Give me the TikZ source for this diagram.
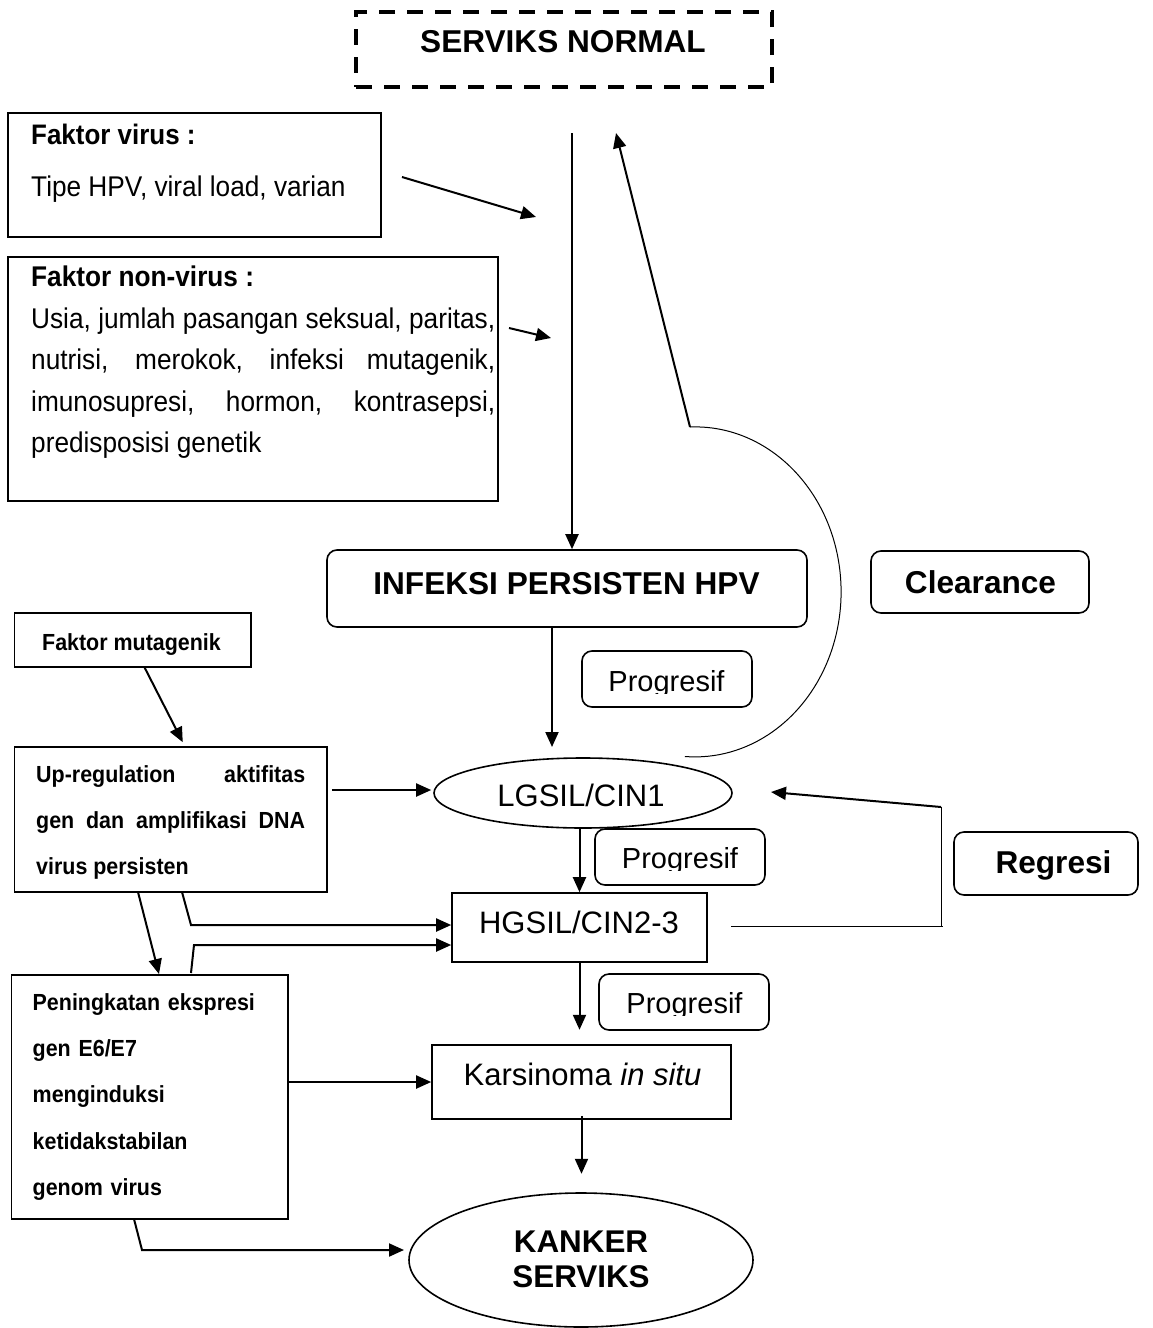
\documentclass[tikz,border=0pt]{standalone}
\usepackage{fontspec}
\setmainfont{Liberation Sans}
\newfontfamily\narrowfont[FakeStretch=0.92]{Liberation Sans}
\usetikzlibrary{arrows.meta,shapes.geometric}
\newcommand\fTitle{\fontsize{31.6}{38}\selectfont\bfseries}
\newcommand\fStage{\fontsize{31}{37}\selectfont}
\newcommand\fProg{\fontsize{29}{34}\selectfont}
\newcommand\fNorm{\narrowfont\fontsize{28.5}{41.5}\selectfont}
\newcommand\fHead{\narrowfont\fontsize{28.2}{31}\selectfont\bfseries}
\newcommand\fSmall{\narrowfont\fontsize{23.3}{46.3}\selectfont\bfseries}
\begin{document}
\begin{tikzpicture}[x=1pt,y=-1pt,
  box/.style={draw,line width=1.6pt,inner sep=0pt,rectangle},
  rbox/.style={box,rounded corners=10pt},
  ebox/.style={draw,line width=1.6pt,ellipse,inner sep=0pt},
  dbox/.style={draw,line width=3.5pt,dash pattern=on 16pt off 12pt,inner sep=0pt,rectangle},
  txt/.style={inner sep=0pt,anchor=base},
  arr/.style={line width=2pt,-{Triangle[length=15pt,width=13pt]}},
  thinln/.style={line width=1pt},
]
\useasboundingbox (0,0) rectangle (1153,1328);
\fill[white] (0,0) rectangle (1153,1328);

% boxes
\node[dbox,minimum width=416pt,minimum height=75pt] (normal) at (564,49.5) {};
\node[box,minimum width=373pt,minimum height=124pt] (fv) at (194.5,175) {};
\node[box,minimum width=490pt,minimum height=244pt] (fnv) at (253,379) {};
\node[rbox,minimum width=480pt,minimum height=77pt] (infeksi) at (567,588.5) {};
\node[rbox,minimum width=218pt,minimum height=62pt] (clear) at (980,582) {};
\node[rbox,minimum width=170pt,minimum height=56pt] (prog1) at (667,679) {};
\node[box,minimum width=236.5pt,minimum height=54pt] (mut) at (132.75,640) {};
\node[box,minimum width=312.5pt,minimum height=145pt] (upreg) at (170.75,819.5) {};
\node[ebox,minimum width=298pt,minimum height=70pt] (lgsil) at (583,793) {};
\node[rbox,minimum width=170pt,minimum height=56pt] (prog2) at (680,857) {};
\node[rbox,minimum width=184pt,minimum height=63pt] (regresi) at (1046,863.5) {};
\node[box,minimum width=255pt,minimum height=69pt] (hgsil) at (579.5,927.5) {};
\node[rbox,minimum width=170pt,minimum height=56pt] (prog3) at (684,1002) {};
\node[box,minimum width=299pt,minimum height=74pt] (karsinoma) at (581.5,1082) {};
\node[box,minimum width=276.5pt,minimum height=244pt] (pening) at (149.75,1097) {};
\node[ebox,minimum width=344pt,minimum height=134pt] (kanker) at (581,1260) {};

% texts
\node[txt,font=\fTitle] (tnormal) at (563,52) {SERVIKS NORMAL};
\node[txt,anchor=base west,font=\fHead] (tfv1) at (31,144) {Faktor virus :};
\node[txt,anchor=base west,font=\fNorm] (tfv2) at (31,196) {Tipe HPV, viral load, varian};
\node[inner sep=0pt,anchor=north west,text width=464pt,align=justify,font=\fNorm] (tfnv) at (31,266)
  {\hyphenpenalty=10000\exhyphenpenalty=10000\parindent=0pt\rule{0pt}{20pt}\textbf{Faktor non-virus :}\par
   Usia, jumlah pasangan seksual, paritas,\linebreak nutrisi, merokok, infeksi mutagenik,\linebreak imunosupresi, hormon, kontrasepsi,\linebreak predisposisi genetik};
\node[txt,font=\fTitle] (tinf) at (566.5,594) {INFEKSI PERSISTEN HPV};
\node[txt,font=\fTitle] (tclear) at (980.5,593) {Clearance};
\node[txt,font=\fSmall] (tmut) at (131.5,650) {Faktor mutagenik};
\node[inner sep=0pt,anchor=north west,text width=269pt,align=justify,font=\fSmall] (tup) at (36,762)
  {\hyphenpenalty=10000\exhyphenpenalty=10000\parindent=0pt\rule{0pt}{20pt}Up-regulation aktifitas\linebreak gen dan amplifikasi DNA\linebreak virus persisten};
\node[txt,font=\fStage] (tlg) at (581,806) {LGSIL/CIN1};
\node[txt,font=\fTitle] (treg) at (1053.5,873) {Regresi};
\node[txt,font=\fStage] (thg) at (579,933) {HGSIL/CIN2-3};
\node[txt,font=\fStage] (tka) at (582.5,1085) {Karsinoma \textit{in situ}};
\node[inner sep=0pt,anchor=north west,text width=255pt,align=left,font=\fSmall] (tpen) at (32.5,990)
  {\parindent=0pt\rule{0pt}{20pt}Peningkatan ekspresi\\gen E6/E7\\menginduksi\\ketidakstabilan\\genom virus};
\node[inner sep=0pt,anchor=north,text width=300pt,align=center,font=\fontsize{31.4}{35}\selectfont\bfseries] (tkan) at (581,1229)
  {\rule{0pt}{23pt}KANKER\\SERVIKS};
\begin{scope}
  \clip (582,651) rectangle (752,693.5);
  \node[txt,font=\fProg] (tp1) at (666.5,691) {Progresif};
\end{scope}
\begin{scope}
  \clip (595,829) rectangle (765,870.5);
  \node[txt,font=\fProg] (tp2) at (680,868) {Progresif};
\end{scope}
\begin{scope}
  \clip (599,974) rectangle (769,1015.5);
  \node[txt,font=\fProg] (tp3) at (684.5,1013) {Progresif};
\end{scope}

% coordinates for free ends
\coordinate (a0) at (572,133);
\coordinate (cl0) at (690,427);
\coordinate (cl1) at (616,133);
\coordinate (fva) at (402,177);
\coordinate (fvb) at (536,217);
\coordinate (fna) at (509,328);
\coordinate (fnb) at (551,338);
\coordinate (i0) at (552,628);
\coordinate (i1) at (552,747);
\coordinate (u1) at (182,892);
\coordinate (u2) at (191,925);
\coordinate (l1) at (191,973);
\coordinate (l2) at (194,945);
\coordinate (d0) at (138,892);
\coordinate (d1) at (159,974);
\coordinate (k1) at (134,1219);
\coordinate (k2) at (142,1250);
\coordinate (k3) at (404,1250);
\coordinate (r1) at (731,926);
\coordinate (r2) at (941,926);
\coordinate (r3) at (941,807);
\coordinate (r4) at (771,792);

% connectors
\draw[arr] (a0) -- (a0 |- infeksi.north);
\draw[arr] (cl0) -- (cl1);
\draw[thinln] (cl0) arc[start angle=-92,end angle=94,x radius=146,y radius=165];
\draw[arr] (fva) -- (fvb);
\draw[arr] (fna) -- (fnb);
\draw[arr] (i0) -- (i1);
\draw[arr] ([xshift=12pt]mut.south) -- ([xshift=12pt,yshift=4pt]upreg.north);
\draw[arr] ([xshift=4pt]upreg.east |- 0,790) -- ([xshift=-2pt]lgsil.west |- 0,790);
\draw[arr] (hgsil.north |- lgsil.south) -- (hgsil.north);
\draw[arr] (u1) -- (u2) -- (u2 -| hgsil.west);
\draw[arr] (l1) -- (l2) -- (l2 -| hgsil.west);
\draw[arr] (d0) -- (d1);
\draw[arr] (hgsil.south) -- ++(0,67);
\draw[arr] ([yshift=4pt]karsinoma.south) -- ++(0,58);
\draw[arr] (pening.east |- karsinoma) -- (karsinoma.west);
\draw[arr] (k1) -- (k2) -- (k3);
\draw[thinln] (r1) -- (943,926);
\draw[thinln] (r2) -- (r3);
\draw[arr] (r3) -- (r4);
\end{tikzpicture}
\end{document}
